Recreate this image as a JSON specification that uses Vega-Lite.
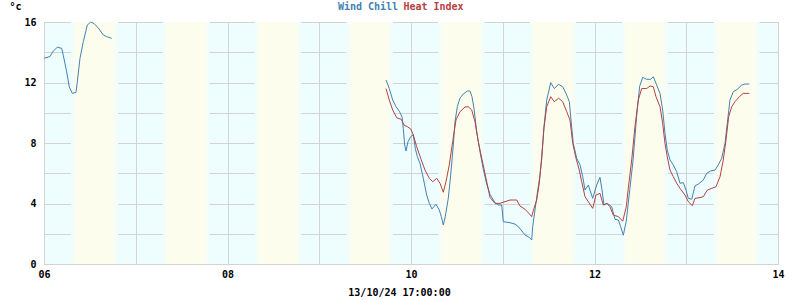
{
  "$schema": "https://vega.github.io/schema/vega-lite/v6.json",
  "width": 734,
  "height": 242,
  "autosize": "none",
  "padding": {"left": 44, "top": 22, "right": 22, "bottom": 36},
  "background": "#ffffff",
  "config": {
    "view": {"stroke": "#d3d3d3", "fill": "#eefdfd"},
    "axis": {
      "labelFont": "DejaVu Sans Mono", "labelFontWeight": "bold", "labelFontSize": 10, "labelColor": "#000000",
      "titleFont": "DejaVu Sans Mono", "titleFontWeight": "bold", "titleFontSize": 10, "titleColor": "#000000",
      "gridColor": "#d3d3d3", "gridOpacity": 1, "gridWidth": 1, "domain": false, "ticks": false, "zindex": 1
    }
  },
  "datasets": {
    "bands": [
      {"dawn": "2024-10-06T07:00", "dusk": "2024-10-06T19:23"},
      {"dawn": "2024-10-07T07:02", "dusk": "2024-10-07T19:21"},
      {"dawn": "2024-10-08T07:03", "dusk": "2024-10-08T19:19"},
      {"dawn": "2024-10-09T07:05", "dusk": "2024-10-09T19:17"},
      {"dawn": "2024-10-10T07:06", "dusk": "2024-10-10T19:15"},
      {"dawn": "2024-10-11T07:08", "dusk": "2024-10-11T19:13"},
      {"dawn": "2024-10-12T07:09", "dusk": "2024-10-12T19:11"},
      {"dawn": "2024-10-13T07:11", "dusk": "2024-10-13T19:09"}
    ],
    "temps": [
      {"t": "2024-10-06T00:00", "s": "Wind Chill", "g": 1, "v": 13.6},
      {"t": "2024-10-06T00:31", "s": "Wind Chill", "g": 1, "v": 13.64},
      {"t": "2024-10-06T01:34", "s": "Wind Chill", "g": 1, "v": 13.72},
      {"t": "2024-10-06T02:26", "s": "Wind Chill", "g": 1, "v": 14.08},
      {"t": "2024-10-06T03:29", "s": "Wind Chill", "g": 1, "v": 14.33},
      {"t": "2024-10-06T04:38", "s": "Wind Chill", "g": 1, "v": 14.26},
      {"t": "2024-10-06T05:03", "s": "Wind Chill", "g": 1, "v": 13.8},
      {"t": "2024-10-06T05:56", "s": "Wind Chill", "g": 1, "v": 12.7},
      {"t": "2024-10-06T06:37", "s": "Wind Chill", "g": 1, "v": 11.7},
      {"t": "2024-10-06T07:24", "s": "Wind Chill", "g": 1, "v": 11.28},
      {"t": "2024-10-06T08:22", "s": "Wind Chill", "g": 1, "v": 11.35},
      {"t": "2024-10-06T08:43", "s": "Wind Chill", "g": 1, "v": 12.05},
      {"t": "2024-10-06T09:25", "s": "Wind Chill", "g": 1, "v": 13.6},
      {"t": "2024-10-06T10:17", "s": "Wind Chill", "g": 1, "v": 14.7},
      {"t": "2024-10-06T11:20", "s": "Wind Chill", "g": 1, "v": 15.8},
      {"t": "2024-10-06T12:13", "s": "Wind Chill", "g": 1, "v": 16.0},
      {"t": "2024-10-06T13:05", "s": "Wind Chill", "g": 1, "v": 15.9},
      {"t": "2024-10-06T14:12", "s": "Wind Chill", "g": 1, "v": 15.6},
      {"t": "2024-10-06T15:31", "s": "Wind Chill", "g": 1, "v": 15.14},
      {"t": "2024-10-06T16:24", "s": "Wind Chill", "g": 1, "v": 15.03},
      {"t": "2024-10-06T17:43", "s": "Wind Chill", "g": 1, "v": 14.92},
      {"t": "2024-10-09T17:28", "s": "Wind Chill", "g": 2, "v": 12.17},
      {"t": "2024-10-09T18:19", "s": "Wind Chill", "g": 2, "v": 11.6},
      {"t": "2024-10-09T19:13", "s": "Wind Chill", "g": 2, "v": 10.84},
      {"t": "2024-10-09T20:05", "s": "Wind Chill", "g": 2, "v": 10.4},
      {"t": "2024-10-09T20:56", "s": "Wind Chill", "g": 2, "v": 10.1},
      {"t": "2024-10-09T21:39", "s": "Wind Chill", "g": 2, "v": 9.74},
      {"t": "2024-10-09T21:59", "s": "Wind Chill", "g": 2, "v": 8.97},
      {"t": "2024-10-09T22:21", "s": "Wind Chill", "g": 2, "v": 7.87},
      {"t": "2024-10-09T22:42", "s": "Wind Chill", "g": 2, "v": 7.47},
      {"t": "2024-10-09T23:13", "s": "Wind Chill", "g": 2, "v": 8.09},
      {"t": "2024-10-09T23:55", "s": "Wind Chill", "g": 2, "v": 8.42},
      {"t": "2024-10-10T00:36", "s": "Wind Chill", "g": 2, "v": 8.53},
      {"t": "2024-10-10T01:07", "s": "Wind Chill", "g": 2, "v": 7.65},
      {"t": "2024-10-10T01:39", "s": "Wind Chill", "g": 2, "v": 7.1},
      {"t": "2024-10-10T02:21", "s": "Wind Chill", "g": 2, "v": 6.66},
      {"t": "2024-10-10T03:13", "s": "Wind Chill", "g": 2, "v": 5.67},
      {"t": "2024-10-10T04:06", "s": "Wind Chill", "g": 2, "v": 4.56},
      {"t": "2024-10-10T04:47", "s": "Wind Chill", "g": 2, "v": 4.01},
      {"t": "2024-10-10T05:29", "s": "Wind Chill", "g": 2, "v": 3.64},
      {"t": "2024-10-10T06:32", "s": "Wind Chill", "g": 2, "v": 3.95},
      {"t": "2024-10-10T07:24", "s": "Wind Chill", "g": 2, "v": 3.57},
      {"t": "2024-10-10T07:56", "s": "Wind Chill", "g": 2, "v": 3.13},
      {"t": "2024-10-10T08:27", "s": "Wind Chill", "g": 2, "v": 2.58},
      {"t": "2024-10-10T08:58", "s": "Wind Chill", "g": 2, "v": 3.13},
      {"t": "2024-10-10T09:45", "s": "Wind Chill", "g": 2, "v": 4.34},
      {"t": "2024-10-10T10:23", "s": "Wind Chill", "g": 2, "v": 5.88},
      {"t": "2024-10-10T11:04", "s": "Wind Chill", "g": 2, "v": 7.87},
      {"t": "2024-10-10T11:31", "s": "Wind Chill", "g": 2, "v": 9.41},
      {"t": "2024-10-10T12:07", "s": "Wind Chill", "g": 2, "v": 10.4},
      {"t": "2024-10-10T12:49", "s": "Wind Chill", "g": 2, "v": 10.96},
      {"t": "2024-10-10T13:41", "s": "Wind Chill", "g": 2, "v": 11.24},
      {"t": "2024-10-10T14:44", "s": "Wind Chill", "g": 2, "v": 11.44},
      {"t": "2024-10-10T15:26", "s": "Wind Chill", "g": 2, "v": 11.44},
      {"t": "2024-10-10T15:57", "s": "Wind Chill", "g": 2, "v": 11.06},
      {"t": "2024-10-10T16:29", "s": "Wind Chill", "g": 2, "v": 10.29},
      {"t": "2024-10-10T17:11", "s": "Wind Chill", "g": 2, "v": 8.75},
      {"t": "2024-10-10T18:03", "s": "Wind Chill", "g": 2, "v": 7.42},
      {"t": "2024-10-10T18:55", "s": "Wind Chill", "g": 2, "v": 6.25},
      {"t": "2024-10-10T19:48", "s": "Wind Chill", "g": 2, "v": 5.3},
      {"t": "2024-10-10T20:40", "s": "Wind Chill", "g": 2, "v": 4.6},
      {"t": "2024-10-10T21:58", "s": "Wind Chill", "g": 2, "v": 4.05},
      {"t": "2024-10-10T22:50", "s": "Wind Chill", "g": 2, "v": 3.9},
      {"t": "2024-10-10T23:44", "s": "Wind Chill", "g": 2, "v": 3.9},
      {"t": "2024-10-11T00:08", "s": "Wind Chill", "g": 2, "v": 2.8},
      {"t": "2024-10-11T01:54", "s": "Wind Chill", "g": 2, "v": 2.73},
      {"t": "2024-10-11T03:12", "s": "Wind Chill", "g": 2, "v": 2.64},
      {"t": "2024-10-11T04:04", "s": "Wind Chill", "g": 2, "v": 2.47},
      {"t": "2024-10-11T04:57", "s": "Wind Chill", "g": 2, "v": 2.2},
      {"t": "2024-10-11T05:49", "s": "Wind Chill", "g": 2, "v": 1.92},
      {"t": "2024-10-11T06:57", "s": "Wind Chill", "g": 2, "v": 1.76},
      {"t": "2024-10-11T07:34", "s": "Wind Chill", "g": 2, "v": 1.59},
      {"t": "2024-10-11T07:50", "s": "Wind Chill", "g": 2, "v": 2.47},
      {"t": "2024-10-11T08:26", "s": "Wind Chill", "g": 2, "v": 3.57},
      {"t": "2024-10-11T09:02", "s": "Wind Chill", "g": 2, "v": 4.67},
      {"t": "2024-10-11T09:45", "s": "Wind Chill", "g": 2, "v": 5.9},
      {"t": "2024-10-11T10:11", "s": "Wind Chill", "g": 2, "v": 6.88},
      {"t": "2024-10-11T10:47", "s": "Wind Chill", "g": 2, "v": 9.08},
      {"t": "2024-10-11T11:30", "s": "Wind Chill", "g": 2, "v": 10.84},
      {"t": "2024-10-11T12:33", "s": "Wind Chill", "g": 2, "v": 11.99},
      {"t": "2024-10-11T13:29", "s": "Wind Chill", "g": 2, "v": 11.6},
      {"t": "2024-10-11T14:38", "s": "Wind Chill", "g": 2, "v": 11.88},
      {"t": "2024-10-11T15:41", "s": "Wind Chill", "g": 2, "v": 11.72},
      {"t": "2024-10-11T16:33", "s": "Wind Chill", "g": 2, "v": 11.28},
      {"t": "2024-10-11T17:25", "s": "Wind Chill", "g": 2, "v": 10.73},
      {"t": "2024-10-11T17:51", "s": "Wind Chill", "g": 2, "v": 9.52},
      {"t": "2024-10-11T18:27", "s": "Wind Chill", "g": 2, "v": 7.98},
      {"t": "2024-10-11T19:20", "s": "Wind Chill", "g": 2, "v": 6.99},
      {"t": "2024-10-11T20:13", "s": "Wind Chill", "g": 2, "v": 6.55},
      {"t": "2024-10-11T20:55", "s": "Wind Chill", "g": 2, "v": 5.77},
      {"t": "2024-10-11T21:31", "s": "Wind Chill", "g": 2, "v": 4.89},
      {"t": "2024-10-11T22:23", "s": "Wind Chill", "g": 2, "v": 5.22},
      {"t": "2024-10-11T23:32", "s": "Wind Chill", "g": 2, "v": 4.34},
      {"t": "2024-10-12T00:34", "s": "Wind Chill", "g": 2, "v": 5.22},
      {"t": "2024-10-12T01:26", "s": "Wind Chill", "g": 2, "v": 5.73},
      {"t": "2024-10-12T01:58", "s": "Wind Chill", "g": 2, "v": 4.89},
      {"t": "2024-10-12T02:29", "s": "Wind Chill", "g": 2, "v": 3.9},
      {"t": "2024-10-12T03:21", "s": "Wind Chill", "g": 2, "v": 4.01},
      {"t": "2024-10-12T04:30", "s": "Wind Chill", "g": 2, "v": 3.79},
      {"t": "2024-10-12T05:22", "s": "Wind Chill", "g": 2, "v": 2.95},
      {"t": "2024-10-12T06:14", "s": "Wind Chill", "g": 2, "v": 2.91},
      {"t": "2024-10-12T06:51", "s": "Wind Chill", "g": 2, "v": 2.47},
      {"t": "2024-10-12T07:32", "s": "Wind Chill", "g": 2, "v": 1.9},
      {"t": "2024-10-12T08:19", "s": "Wind Chill", "g": 2, "v": 2.85},
      {"t": "2024-10-12T09:13", "s": "Wind Chill", "g": 2, "v": 4.9},
      {"t": "2024-10-12T10:04", "s": "Wind Chill", "g": 2, "v": 6.8},
      {"t": "2024-10-12T11:02", "s": "Wind Chill", "g": 2, "v": 9.8},
      {"t": "2024-10-12T11:49", "s": "Wind Chill", "g": 2, "v": 11.75},
      {"t": "2024-10-12T12:37", "s": "Wind Chill", "g": 2, "v": 12.34},
      {"t": "2024-10-12T13:39", "s": "Wind Chill", "g": 2, "v": 12.21},
      {"t": "2024-10-12T14:42", "s": "Wind Chill", "g": 2, "v": 12.21},
      {"t": "2024-10-12T15:23", "s": "Wind Chill", "g": 2, "v": 12.38},
      {"t": "2024-10-12T16:16", "s": "Wind Chill", "g": 2, "v": 11.83},
      {"t": "2024-10-12T17:08", "s": "Wind Chill", "g": 2, "v": 11.28},
      {"t": "2024-10-12T17:50", "s": "Wind Chill", "g": 2, "v": 10.18},
      {"t": "2024-10-12T18:26", "s": "Wind Chill", "g": 2, "v": 8.64},
      {"t": "2024-10-12T19:02", "s": "Wind Chill", "g": 2, "v": 7.54},
      {"t": "2024-10-12T19:45", "s": "Wind Chill", "g": 2, "v": 6.88},
      {"t": "2024-10-12T20:37", "s": "Wind Chill", "g": 2, "v": 6.55},
      {"t": "2024-10-12T21:30", "s": "Wind Chill", "g": 2, "v": 6.1},
      {"t": "2024-10-12T22:22", "s": "Wind Chill", "g": 2, "v": 5.34},
      {"t": "2024-10-12T23:14", "s": "Wind Chill", "g": 2, "v": 5.38},
      {"t": "2024-10-12T23:56", "s": "Wind Chill", "g": 2, "v": 4.89},
      {"t": "2024-10-13T00:32", "s": "Wind Chill", "g": 2, "v": 4.34},
      {"t": "2024-10-13T01:26", "s": "Wind Chill", "g": 2, "v": 4.28},
      {"t": "2024-10-13T02:17", "s": "Wind Chill", "g": 2, "v": 5.16},
      {"t": "2024-10-13T03:09", "s": "Wind Chill", "g": 2, "v": 5.29},
      {"t": "2024-10-13T04:28", "s": "Wind Chill", "g": 2, "v": 5.55},
      {"t": "2024-10-13T05:21", "s": "Wind Chill", "g": 2, "v": 6.0},
      {"t": "2024-10-13T06:24", "s": "Wind Chill", "g": 2, "v": 6.15},
      {"t": "2024-10-13T07:31", "s": "Wind Chill", "g": 2, "v": 6.21},
      {"t": "2024-10-13T08:23", "s": "Wind Chill", "g": 2, "v": 6.55},
      {"t": "2024-10-13T09:16", "s": "Wind Chill", "g": 2, "v": 6.99},
      {"t": "2024-10-13T10:08", "s": "Wind Chill", "g": 2, "v": 7.98},
      {"t": "2024-10-13T10:44", "s": "Wind Chill", "g": 2, "v": 9.3},
      {"t": "2024-10-13T11:26", "s": "Wind Chill", "g": 2, "v": 10.84},
      {"t": "2024-10-13T12:18", "s": "Wind Chill", "g": 2, "v": 11.39},
      {"t": "2024-10-13T13:21", "s": "Wind Chill", "g": 2, "v": 11.55},
      {"t": "2024-10-13T14:30", "s": "Wind Chill", "g": 2, "v": 11.83},
      {"t": "2024-10-13T15:22", "s": "Wind Chill", "g": 2, "v": 11.9},
      {"t": "2024-10-13T16:29", "s": "Wind Chill", "g": 2, "v": 11.9},
      {"t": "2024-10-09T17:28", "s": "Heat Index", "g": 2, "v": 11.6},
      {"t": "2024-10-09T18:19", "s": "Heat Index", "g": 2, "v": 10.84},
      {"t": "2024-10-09T19:13", "s": "Heat Index", "g": 2, "v": 10.18},
      {"t": "2024-10-09T20:16", "s": "Heat Index", "g": 2, "v": 9.67},
      {"t": "2024-10-09T21:28", "s": "Heat Index", "g": 2, "v": 9.56},
      {"t": "2024-10-09T22:10", "s": "Heat Index", "g": 2, "v": 9.19},
      {"t": "2024-10-09T23:02", "s": "Heat Index", "g": 2, "v": 9.08},
      {"t": "2024-10-09T23:55", "s": "Heat Index", "g": 2, "v": 8.93},
      {"t": "2024-10-10T00:36", "s": "Heat Index", "g": 2, "v": 8.53},
      {"t": "2024-10-10T01:29", "s": "Heat Index", "g": 2, "v": 7.76},
      {"t": "2024-10-10T02:32", "s": "Heat Index", "g": 2, "v": 6.99},
      {"t": "2024-10-10T03:40", "s": "Heat Index", "g": 2, "v": 6.21},
      {"t": "2024-10-10T04:47", "s": "Heat Index", "g": 2, "v": 5.67},
      {"t": "2024-10-10T05:41", "s": "Heat Index", "g": 2, "v": 5.44},
      {"t": "2024-10-10T06:43", "s": "Heat Index", "g": 2, "v": 5.67},
      {"t": "2024-10-10T07:35", "s": "Heat Index", "g": 2, "v": 5.34},
      {"t": "2024-10-10T08:27", "s": "Heat Index", "g": 2, "v": 4.74},
      {"t": "2024-10-10T09:09", "s": "Heat Index", "g": 2, "v": 5.44},
      {"t": "2024-10-10T10:01", "s": "Heat Index", "g": 2, "v": 6.55},
      {"t": "2024-10-10T10:54", "s": "Heat Index", "g": 2, "v": 8.09},
      {"t": "2024-10-10T11:46", "s": "Heat Index", "g": 2, "v": 9.52},
      {"t": "2024-10-10T12:49", "s": "Heat Index", "g": 2, "v": 10.07},
      {"t": "2024-10-10T14:08", "s": "Heat Index", "g": 2, "v": 10.38},
      {"t": "2024-10-10T14:59", "s": "Heat Index", "g": 2, "v": 10.4},
      {"t": "2024-10-10T15:53", "s": "Heat Index", "g": 2, "v": 10.18},
      {"t": "2024-10-10T16:44", "s": "Heat Index", "g": 2, "v": 9.41},
      {"t": "2024-10-10T17:36", "s": "Heat Index", "g": 2, "v": 8.09},
      {"t": "2024-10-10T18:30", "s": "Heat Index", "g": 2, "v": 6.99},
      {"t": "2024-10-10T19:37", "s": "Heat Index", "g": 2, "v": 5.67},
      {"t": "2024-10-10T20:40", "s": "Heat Index", "g": 2, "v": 4.4},
      {"t": "2024-10-10T21:58", "s": "Heat Index", "g": 2, "v": 4.01},
      {"t": "2024-10-10T23:17", "s": "Heat Index", "g": 2, "v": 4.01},
      {"t": "2024-10-11T00:35", "s": "Heat Index", "g": 2, "v": 4.12},
      {"t": "2024-10-11T01:54", "s": "Heat Index", "g": 2, "v": 4.23},
      {"t": "2024-10-11T03:39", "s": "Heat Index", "g": 2, "v": 4.23},
      {"t": "2024-10-11T04:31", "s": "Heat Index", "g": 2, "v": 3.83},
      {"t": "2024-10-11T05:49", "s": "Heat Index", "g": 2, "v": 3.62},
      {"t": "2024-10-11T06:41", "s": "Heat Index", "g": 2, "v": 3.39},
      {"t": "2024-10-11T07:34", "s": "Heat Index", "g": 2, "v": 3.13},
      {"t": "2024-10-11T08:10", "s": "Heat Index", "g": 2, "v": 3.68},
      {"t": "2024-10-11T08:53", "s": "Heat Index", "g": 2, "v": 4.23},
      {"t": "2024-10-11T09:34", "s": "Heat Index", "g": 2, "v": 5.34},
      {"t": "2024-10-11T10:11", "s": "Heat Index", "g": 2, "v": 7.1},
      {"t": "2024-10-11T10:47", "s": "Heat Index", "g": 2, "v": 9.0},
      {"t": "2024-10-11T11:30", "s": "Heat Index", "g": 2, "v": 10.4},
      {"t": "2024-10-11T12:33", "s": "Heat Index", "g": 2, "v": 11.06},
      {"t": "2024-10-11T13:29", "s": "Heat Index", "g": 2, "v": 10.73},
      {"t": "2024-10-11T14:38", "s": "Heat Index", "g": 2, "v": 10.96},
      {"t": "2024-10-11T15:41", "s": "Heat Index", "g": 2, "v": 10.73},
      {"t": "2024-10-11T16:44", "s": "Heat Index", "g": 2, "v": 10.07},
      {"t": "2024-10-11T17:35", "s": "Heat Index", "g": 2, "v": 9.52},
      {"t": "2024-10-11T18:18", "s": "Heat Index", "g": 2, "v": 7.98},
      {"t": "2024-10-11T19:10", "s": "Heat Index", "g": 2, "v": 6.99},
      {"t": "2024-10-11T20:01", "s": "Heat Index", "g": 2, "v": 6.21},
      {"t": "2024-10-11T20:39", "s": "Heat Index", "g": 2, "v": 5.44},
      {"t": "2024-10-11T21:31", "s": "Heat Index", "g": 2, "v": 4.45},
      {"t": "2024-10-11T22:23", "s": "Heat Index", "g": 2, "v": 4.12},
      {"t": "2024-10-11T23:32", "s": "Heat Index", "g": 2, "v": 3.68},
      {"t": "2024-10-12T00:23", "s": "Heat Index", "g": 2, "v": 4.56},
      {"t": "2024-10-12T01:26", "s": "Heat Index", "g": 2, "v": 4.67},
      {"t": "2024-10-12T02:18", "s": "Heat Index", "g": 2, "v": 3.9},
      {"t": "2024-10-12T03:11", "s": "Heat Index", "g": 2, "v": 4.01},
      {"t": "2024-10-12T04:03", "s": "Heat Index", "g": 2, "v": 3.79},
      {"t": "2024-10-12T04:55", "s": "Heat Index", "g": 2, "v": 3.24},
      {"t": "2024-10-12T06:14", "s": "Heat Index", "g": 2, "v": 3.13},
      {"t": "2024-10-12T07:23", "s": "Heat Index", "g": 2, "v": 2.83},
      {"t": "2024-10-12T08:19", "s": "Heat Index", "g": 2, "v": 3.79},
      {"t": "2024-10-12T08:50", "s": "Heat Index", "g": 2, "v": 5.0},
      {"t": "2024-10-12T09:44", "s": "Heat Index", "g": 2, "v": 6.88},
      {"t": "2024-10-12T10:35", "s": "Heat Index", "g": 2, "v": 9.08},
      {"t": "2024-10-12T11:27", "s": "Heat Index", "g": 2, "v": 10.84},
      {"t": "2024-10-12T12:21", "s": "Heat Index", "g": 2, "v": 11.6},
      {"t": "2024-10-12T13:39", "s": "Heat Index", "g": 2, "v": 11.6},
      {"t": "2024-10-12T14:31", "s": "Heat Index", "g": 2, "v": 11.77},
      {"t": "2024-10-12T15:23", "s": "Heat Index", "g": 2, "v": 11.72},
      {"t": "2024-10-12T16:05", "s": "Heat Index", "g": 2, "v": 11.06},
      {"t": "2024-10-12T17:08", "s": "Heat Index", "g": 2, "v": 10.4},
      {"t": "2024-10-12T17:50", "s": "Heat Index", "g": 2, "v": 9.3},
      {"t": "2024-10-12T18:26", "s": "Heat Index", "g": 2, "v": 7.98},
      {"t": "2024-10-12T19:02", "s": "Heat Index", "g": 2, "v": 7.09},
      {"t": "2024-10-12T19:45", "s": "Heat Index", "g": 2, "v": 6.21},
      {"t": "2024-10-12T20:37", "s": "Heat Index", "g": 2, "v": 5.77},
      {"t": "2024-10-12T21:30", "s": "Heat Index", "g": 2, "v": 5.34},
      {"t": "2024-10-12T22:22", "s": "Heat Index", "g": 2, "v": 5.0},
      {"t": "2024-10-12T23:40", "s": "Heat Index", "g": 2, "v": 4.56},
      {"t": "2024-10-13T00:32", "s": "Heat Index", "g": 2, "v": 4.12},
      {"t": "2024-10-13T01:35", "s": "Heat Index", "g": 2, "v": 3.86},
      {"t": "2024-10-13T02:17", "s": "Heat Index", "g": 2, "v": 4.34},
      {"t": "2024-10-13T03:36", "s": "Heat Index", "g": 2, "v": 4.39},
      {"t": "2024-10-13T04:28", "s": "Heat Index", "g": 2, "v": 4.45},
      {"t": "2024-10-13T05:31", "s": "Heat Index", "g": 2, "v": 4.89},
      {"t": "2024-10-13T06:40", "s": "Heat Index", "g": 2, "v": 5.0},
      {"t": "2024-10-13T07:47", "s": "Heat Index", "g": 2, "v": 5.11},
      {"t": "2024-10-13T08:50", "s": "Heat Index", "g": 2, "v": 5.77},
      {"t": "2024-10-13T09:41", "s": "Heat Index", "g": 2, "v": 6.88},
      {"t": "2024-10-13T10:24", "s": "Heat Index", "g": 2, "v": 8.2},
      {"t": "2024-10-13T11:06", "s": "Heat Index", "g": 2, "v": 9.74},
      {"t": "2024-10-13T11:53", "s": "Heat Index", "g": 2, "v": 10.4},
      {"t": "2024-10-13T12:45", "s": "Heat Index", "g": 2, "v": 10.73},
      {"t": "2024-10-13T13:53", "s": "Heat Index", "g": 2, "v": 11.06},
      {"t": "2024-10-13T14:55", "s": "Heat Index", "g": 2, "v": 11.28},
      {"t": "2024-10-13T16:29", "s": "Heat Index", "g": 2, "v": 11.28}
    ]
  },
  "resolve": {"axis": {"x": "independent"}},
  "layer": [
    {
      "data": {"name": "bands"},
      "mark": {
        "type": "rect",
        "color": {
          "gradient": "linear",
          "stops": [
            {"offset": 0, "color": "#eefdfd"},
            {"offset": 0.12, "color": "#fdfdee"},
            {"offset": 0.88, "color": "#fdfdee"},
            {"offset": 1, "color": "#eefdfd"}
          ]
        }
      },
      "encoding": {
        "x": {
          "field": "dawn", "type": "temporal",
          "scale": {"domain": [{"year": 2024, "month": 10, "date": 6, "hours": 0}, {"year": 2024, "month": 10, "date": 14, "hours": 0}], "nice": false},
          "axis": {
            "orient": "bottom", "grid": true,
            "tickCount": {"interval": "day", "step": 1},
            "labelExpr": "date(datum.value) % 2 == 0 ? timeFormat(datum.value, '%d') : ''",
            "labelFlush": false, "labelOverlap": false, "labelPadding": 5,
            "title": "13/10/24 17:00:00", "titleX": 355, "titleY": 31,
            "titleAlign": "center", "titleBaseline": "alphabetic"
          }
        },
        "x2": {"field": "dusk"}
      }
    },
    {
      "data": {"name": "temps"},
      "transform": [{"filter": "datum.s == 'Wind Chill'"}],
      "mark": {"type": "line", "color": "#4282b4", "strokeWidth": 1, "zindex": 2},
      "encoding": {
        "x": {
          "field": "t", "type": "temporal",
          "scale": {"domain": [{"year": 2024, "month": 10, "date": 6, "hours": 0}, {"year": 2024, "month": 10, "date": 14, "hours": 0}], "nice": false},
          "axis": {"orient": "top", "grid": false, "labels": false, "title": "Wind Chill", "titleColor": "#4282b4", "titleX": 323.5, "titleY": -13, "titleAlign": "center", "titleBaseline": "alphabetic"}
        },
        "y": {
          "field": "v", "type": "quantitative",
          "scale": {"domain": [0, 16], "nice": false},
          "axis": {"orient": "left", "grid": true, "values": [0, 2, 4, 6, 8, 10, 12, 14, 16], "labelExpr": "datum.value % 4 == 0 ? datum.label : ''", "labelPadding": 8, "title": "°c", "titleAngle": 0, "titleX": -29, "titleY": -13, "titleAlign": "center", "titleBaseline": "alphabetic"}
        },
        "detail": {"field": "g", "type": "nominal"}
      }
    },
    {
      "data": {"name": "temps"},
      "transform": [{"filter": "datum.s == 'Heat Index'"}],
      "mark": {"type": "line", "color": "#b44242", "strokeWidth": 1, "zindex": 2},
      "encoding": {
        "x": {
          "field": "t", "type": "temporal",
          "scale": {"domain": [{"year": 2024, "month": 10, "date": 6, "hours": 0}, {"year": 2024, "month": 10, "date": 14, "hours": 0}], "nice": false},
          "axis": {"orient": "top", "grid": false, "labels": false, "title": "Heat Index", "titleColor": "#b44242", "titleX": 389, "titleY": -13, "titleAlign": "center", "titleBaseline": "alphabetic"}
        },
        "y": {
          "field": "v", "type": "quantitative",
          "scale": {"domain": [0, 16], "nice": false},
          "axis": {"orient": "left", "grid": true, "values": [0, 2, 4, 6, 8, 10, 12, 14, 16], "labelExpr": "datum.value % 4 == 0 ? datum.label : ''", "labelPadding": 8, "title": "°c", "titleAngle": 0, "titleX": -29, "titleY": -13, "titleAlign": "center", "titleBaseline": "alphabetic"}
        },
        "detail": {"field": "g", "type": "nominal"}
      }
    }
  ]
}
